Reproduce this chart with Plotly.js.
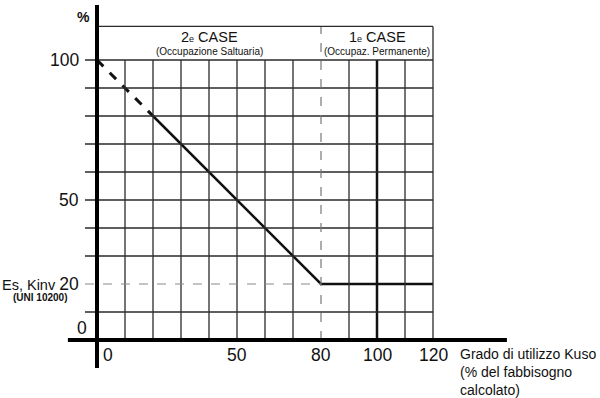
<!DOCTYPE html>
<html>
<head>
<meta charset="utf-8">
<script src="https://cdn.plot.ly/plotly-3.0.1.min.js"></script>
<style>html,body{margin:0;padding:0;background:#fff;}#chart{width:600px;height:398px;}</style>
</head>
<body>
<div id="chart"></div>
<script>
// ---- data ----
const dashedX = [0, 20];
const dashedY = [100, 80];
const solidX = [20, 80, 120];
const solidY = [80, 20, 20];
const gridX = [10, 20, 30, 40, 50, 60, 70, 80, 90, 100, 110, 120];
const gridY = [10, 20, 30, 40, 50, 60, 70, 80, 90, 100];
const xTickVals = [0, 50, 80, 100, 120];
const xTickText = ['0', '50', '80', '100', '120'];
const yTickVals = [0, 50, 100];
const yTickText = ['0', '50', '100'];
const refLevel = 20;       // Es, Kinv
const splitX = 80;         // boundary 2e / 1e CASE
const headerTop = 112;

const font = 'Liberation Sans, Arial, sans-serif';
const shapes = [];
// vertical grid lines
gridX.forEach(v => {
  if (v === splitX) return;
  shapes.push({type:'line', xref:'x', yref:'y', x0:v, x1:v, y0:0, y1:100,
    line:{color: v === 100 ? '#111' : '#2a2a2a', width: v === 100 ? 2.5 : 1.3}});
});
// horizontal grid lines
gridY.forEach(v => {
  if (v === refLevel) return;
  shapes.push({type:'line', xref:'x', yref:'y', x0:-4.3, x1:120, y0:v, y1:v,
    line:{color:'#2a2a2a', width:1.3}});
});
// reference dashed line at 20
shapes.push({type:'line', xref:'x', yref:'y', x0:-4.3, x1:splitX, y0:refLevel, y1:refLevel,
  line:{color:'#888', width:1.2, dash:'dash'}});
// split dashed vertical
shapes.push({type:'line', xref:'x', yref:'y', x0:splitX, x1:splitX, y0:0, y1:headerTop,
  line:{color:'#777', width:1.2, dash:'dash'}});
// header box
shapes.push({type:'line', xref:'x', yref:'y', x0:0, x1:120, y0:headerTop, y1:headerTop,
  line:{color:'#2a2a2a', width:1.3}});
shapes.push({type:'line', xref:'x', yref:'y', x0:120, x1:120, y0:100, y1:headerTop,
  line:{color:'#2a2a2a', width:1.3}});
// main axes
shapes.push({type:'line', xref:'x', yref:'y', x0:0, x1:0, y0:-10, y1:119.6,
  line:{color:'#000', width:4}});
shapes.push({type:'line', xref:'x', yref:'y', x0:-10.4, x1:146.4, y0:0, y1:0,
  line:{color:'#000', width:4}});

const annotations = [];
xTickVals.forEach((v, i) => {
  annotations.push({x: v === 0 ? 1.5 : v, y: -5.4, xref:'x', yref:'y', text: xTickText[i],
    showarrow:false, xanchor: v === 0 ? 'left' : 'center', yanchor:'middle',
    font:{family:font, size:17.5, color:'#111'}});
});
yTickVals.forEach((v, i) => {
  annotations.push({x: v === 0 ? -2.8 : -5.8, y: v === 0 ? 4.3 : v, xref:'x', yref:'y', text: yTickText[i],
    showarrow:false, xanchor:'right', yanchor:'middle',
    font:{family:font, size:17.5, color:'#111'}});
});
annotations.push({x:-5.8, y:refLevel, xref:'x', yref:'y',
  text:'<span style="font-size:14.5px">Es, Kinv </span>20',
  showarrow:false, xanchor:'right', yanchor:'middle', font:{family:font, size:17.5, color:'#111'}});
annotations.push({x:-20.5, y:refLevel - 4.7, xref:'x', yref:'y', text:'<b>(UNI 10200)</b>',
  showarrow:false, xanchor:'center', yanchor:'middle', font:{family:font, size:10, color:'#111'}});
annotations.push({x:-5, y:115.5, xref:'x', yref:'y', text:'<b>%</b>',
  showarrow:false, xanchor:'center', yanchor:'middle', font:{family:font, size:14, color:'#111'}});
annotations.push({x:40, y:108.2, xref:'x', yref:'y',
  text:'2<span style="font-size:9px">e</span> CASE',
  showarrow:false, xanchor:'center', yanchor:'middle', font:{family:font, size:14.5, color:'#111'}});
annotations.push({x:40, y:103.2, xref:'x', yref:'y', text:'(Occupazione Saltuaria)',
  showarrow:false, xanchor:'center', yanchor:'middle', font:{family:font, size:10, color:'#111'}});
annotations.push({x:100, y:108.2, xref:'x', yref:'y',
  text:'1<span style="font-size:9px">e</span> CASE',
  showarrow:false, xanchor:'center', yanchor:'middle', font:{family:font, size:14.5, color:'#111'}});
annotations.push({x:100, y:103.2, xref:'x', yref:'y', text:'(Occupaz. Permanente)',
  showarrow:false, xanchor:'center', yanchor:'middle', font:{family:font, size:10, color:'#111'}});
annotations.push({x:129, y:-1.5, xref:'x', yref:'y',
  text:'Grado di utilizzo Kuso<br>(% del fabbisogno<br>calcolato)',
  showarrow:false, xanchor:'left', yanchor:'top', align:'left',
  font:{family:font, size:14, color:'#111'}});

const traces = [
  {x: dashedX, y: dashedY, mode:'lines', line:{color:'#111', width:3, dash:'dash'}, hoverinfo:'skip'},
  {x: solidX, y: solidY, mode:'lines', line:{color:'#111', width:2.5}, hoverinfo:'skip'}
];

const layout = {
  width:600, height:398,
  margin:{l:0, r:0, t:0, b:0},
  paper_bgcolor:'#fff', plot_bgcolor:'#fff',
  showlegend:false,
  xaxis:{range:[-34.643, 179.643], visible:false, fixedrange:true},
  yaxis:{range:[-20.714, 121.429], visible:false, fixedrange:true},
  shapes: shapes,
  annotations: annotations
};
Plotly.newPlot('chart', traces, layout, {staticPlot:true, displayModeBar:false});
</script>
</body>
</html>
